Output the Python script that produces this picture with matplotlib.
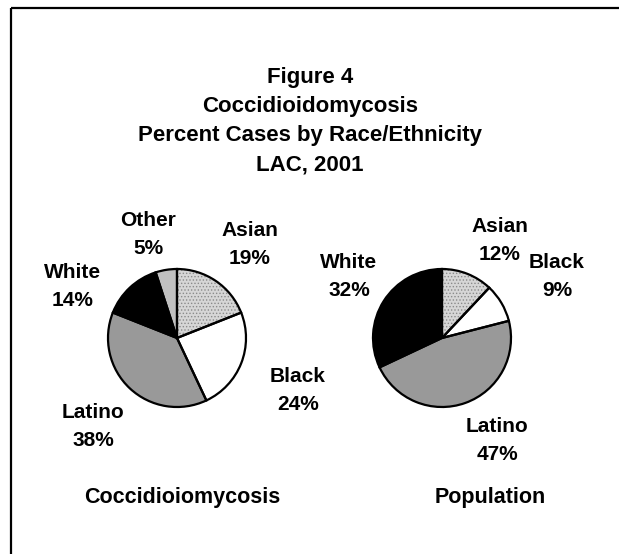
import matplotlib
matplotlib.use("Agg")
import matplotlib.pyplot as plt

plt.rcParams['font.family'] = ['Liberation Sans', 'DejaVu Sans']
plt.rcParams['hatch.color'] = '#8a8a8a'
plt.rcParams['hatch.linewidth'] = 0.6

# data
cases_groups = ['Asian', 'Black', 'Latino', 'White', 'Other']
cases_pct = [19, 24, 38, 14, 5]
pop_groups = ['Asian', 'Black', 'Latino', 'White']
pop_pct = [12, 9, 47, 32]

title_lines = ['Figure 4', 'Coccidioidomycosis',
               'Percent Cases by Race/Ethnicity', 'LAC, 2001']

fills = {'Asian': '#d6d6d6', 'Black': 'white', 'Latino': '#999999',
         'White': 'black', 'Other': '#c0c0c0'}

W, H = 619, 554
fig = plt.figure(figsize=(W / 100, H / 100), dpi=100)
ax = fig.add_axes([0, 0, 1, 1])


def draw_pie(vals, groups, cx, cy, r):
    wedges, _ = ax.pie(vals, colors=[fills[g] for g in groups],
                       startangle=90, counterclock=False,
                       center=(cx, H - cy), radius=r)
    for w, g in zip(wedges, groups):
        if g == 'Asian':
            w.set_hatch('.....')
    # outlines on top
    ax.pie(vals, colors=['none'] * len(vals), startangle=90, counterclock=False,
           center=(cx, H - cy), radius=r,
           wedgeprops=dict(edgecolor='black', linewidth=1.6))


draw_pie(cases_pct, cases_groups, 177, 338, 69)
draw_pie(pop_pct, pop_groups, 442, 338, 69)

ax.set_xlim(0, W)
ax.set_ylim(0, H)
ax.set_aspect('equal')
ax.axis('off')

# frame (only top and left edges fall inside the picture)
ax.plot([11, W], [H - 8, H - 8], color='black', lw=1.6, solid_capstyle='butt')
ax.plot([11, 11], [H - 8, 0], color='black', lw=1.6, solid_capstyle='butt')

txt = dict(ha='center', va='center', fontsize=15, fontweight='bold')

for i, line in enumerate(title_lines):
    ax.text(310, H - (77 + 29.5 * i), line, **dict(txt, fontsize=16))


def label(x, y, name, pct):
    ax.text(x, H - y, name, **txt)
    ax.text(x, H - y - 28, f'{pct}%', **txt)


# left pie labels
left_pos = {'Other': (148, 220), 'Asian': (250, 230), 'White': (73, 272),
            'Black': (298, 376), 'Latino': (93, 412)}
for g, v in zip(cases_groups, cases_pct):
    label(*left_pos[g], g, v)

# right pie labels
right_pos = {'Asian': (500, 227), 'Black': (557, 263), 'White': (349, 263),
             'Latino': (497, 427)}
for g, v in zip(pop_groups, pop_pct):
    label(*right_pos[g], g, v)

ax.text(182, H - 498, 'Coccidioiomycosis', **dict(txt, fontsize=15.5))
ax.text(490, H - 498, 'Population', **dict(txt, fontsize=15.5))

fig.savefig('out.png', dpi=100)
